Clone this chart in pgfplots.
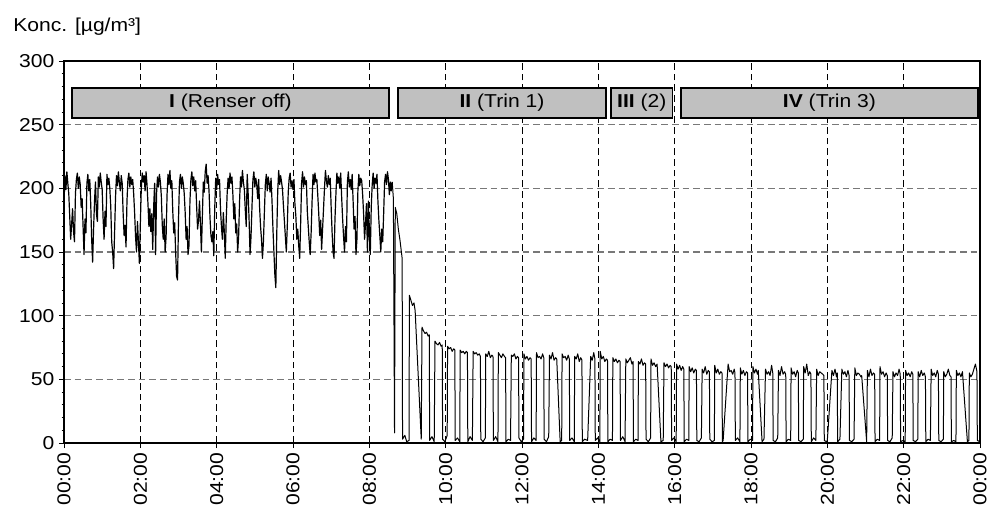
\documentclass[border=0pt]{standalone}
\usepackage{fontspec}
\setmainfont{Liberation Sans}[FakeStretch=1.13]
\usepackage{pgfplots}
\pgfplotsset{compat=1.18}
\usepackage{pgfplotstable}
\definecolor{boxgray}{RGB}{192,192,192}
\definecolor{gridgray}{RGB}{120,120,120}

% phase I: 0 - 8.6 h
\pgfplotstableread{
x y
0.000 188
0.025 210
0.050 199
0.075 213
0.100 204
0.125 196
0.150 178
0.175 160
0.200 172
0.225 184
0.250 166
0.275 158
0.300 196
0.325 207
0.350 212
0.375 200
0.400 209
0.425 203
0.450 185
0.475 192
0.500 170
0.525 148
0.550 176
0.575 165
0.600 204
0.625 211
0.650 198
0.675 207
0.700 188
0.725 160
0.750 142
0.775 168
0.800 190
0.825 205
0.850 180
0.875 174
0.900 209
0.925 201
0.950 212
0.975 205
1.000 199
1.025 176
1.050 160
1.075 182
1.100 170
1.125 211
1.150 203
1.175 208
1.200 200
1.225 186
1.250 158
1.275 150
1.300 137
1.325 165
1.350 193
1.375 210
1.400 202
1.425 213
1.450 205
1.475 198
1.500 210
1.525 204
1.550 180
1.575 163
1.600 171
1.625 154
1.650 190
1.675 207
1.700 212
1.725 201
1.750 209
1.775 203
1.800 207
1.825 196
1.850 181
1.875 162
1.900 150
1.925 174
1.950 158
1.975 141
2.000 172
2.025 200
2.050 212
2.075 205
2.100 210
2.125 198
2.150 213
2.175 203
2.200 188
2.225 170
2.250 184
2.275 166
2.300 180
2.325 152
2.350 186
2.375 204
2.400 148
2.425 196
2.450 209
2.475 201
2.500 211
2.525 205
2.550 194
2.575 171
2.600 160
2.625 176
2.650 150
2.675 162
2.700 195
2.725 211
2.750 203
2.775 214
2.800 200
2.825 206
2.850 182
2.875 165
2.900 173
2.925 150
2.950 131
2.975 128
3.000 175
3.025 205
3.050 211
3.075 200
3.100 209
3.125 204
3.150 196
3.175 181
3.200 160
3.225 170
3.250 148
3.275 155
3.300 190
3.325 207
3.350 213
3.375 202
3.400 209
3.425 198
3.450 206
3.475 186
3.500 168
3.525 175
3.550 190
3.575 172
3.600 150
3.625 178
3.650 205
3.675 197
3.700 213
3.725 219
3.750 204
3.775 210
3.800 198
3.825 177
3.850 163
3.875 158
3.900 166
3.925 147
3.950 185
3.975 208
4.000 199
4.025 211
4.050 203
4.075 207
4.100 184
4.125 170
4.150 160
4.175 181
4.200 166
4.225 145
4.250 175
4.275 196
4.300 208
4.325 200
4.350 212
4.375 204
4.400 209
4.425 195
4.450 176
4.475 188
4.500 165
4.525 172
4.550 150
4.575 162
4.600 190
4.625 209
4.650 201
4.675 214
4.700 205
4.725 199
4.750 183
4.775 170
4.800 211
4.825 196
4.850 175
4.875 148
4.900 162
4.925 185
4.950 207
4.975 213
5.000 201
5.025 208
5.050 203
5.075 192
5.100 207
5.125 185
5.150 170
5.175 160
5.200 145
5.225 158
5.250 181
5.275 203
5.300 211
5.325 198
5.350 209
5.375 204
5.400 197
5.425 208
5.450 190
5.475 168
5.500 150
5.525 132
5.550 122
5.575 165
5.600 198
5.625 214
5.650 203
5.675 210
5.700 205
5.725 199
5.750 186
5.775 174
5.800 162
5.825 150
5.850 170
5.875 197
5.900 208
5.925 212
5.950 201
5.975 206
6.000 199
6.025 207
6.050 188
6.075 178
6.100 160
6.125 168
6.150 155
6.175 145
6.200 172
6.225 204
6.250 213
6.275 201
6.300 209
6.325 203
6.350 206
6.375 182
6.400 170
6.425 158
6.450 148
6.475 165
6.500 190
6.525 211
6.550 203
6.575 212
6.600 205
6.625 207
6.650 194
6.675 180
6.700 163
6.725 175
6.750 152
6.775 168
6.800 184
6.825 200
6.850 214
6.875 206
6.900 201
6.925 210
6.950 203
6.975 208
7.000 185
7.025 165
7.050 150
7.075 145
7.100 176
7.125 196
7.150 212
7.175 204
7.200 209
7.225 200
7.250 212
7.275 193
7.300 176
7.325 162
7.350 150
7.375 170
7.400 158
7.425 205
7.450 213
7.475 201
7.500 207
7.525 199
7.550 211
7.575 190
7.600 168
7.625 178
7.650 148
7.675 160
7.700 198
7.725 211
7.750 202
7.775 208
7.800 206
7.825 195
7.850 180
7.875 160
7.900 172
7.925 188
7.950 150
7.975 190
8.000 162
8.025 148
8.050 185
8.075 203
8.100 212
8.125 200
8.150 208
8.175 204
8.200 211
8.225 190
8.250 175
8.275 163
8.300 150
8.325 168
8.350 158
8.375 180
8.400 205
8.425 211
8.450 203
8.475 213
8.500 207
8.525 195
8.550 205
8.575 198
8.600 205
}\phaseone

% phases II - IV: 8.6 - 24 h
\pgfplotstableread{
x y
8.600 205
8.63 192
8.66 8
8.68 185
8.72 180
8.76 168
8.80 160
8.84 150
8.86 145
8.87 3
8.93 6
8.98 1
9.04 2
9.05 116
9.09 112
9.13 108
9.17 110
9.20 104
9.36 3
9.38 91
9.42 88
9.46 86
9.50 87
9.54 84
9.57 85
9.58 2
9.64 5
9.70 1
9.72 80
9.76 78
9.80 77
9.84 79
9.88 76
9.91 77
9.92 3
9.98 1
10.04 6
10.05 76
10.09 74
10.13 75
10.17 72
10.21 74
10.24 73
10.25 2
10.31 4
10.37 1
10.38 73
10.42 71
10.46 72
10.50 70
10.54 72
10.57 71
10.58 1
10.64 5
10.70 2
10.72 72
10.76 70
10.80 71
10.84 69
10.88 70
10.91 68
10.92 3
10.98 1
11.04 4
11.05 70
11.09 68
11.13 72
11.17 67
11.21 69
11.24 68
11.25 2
11.31 5
11.37 1
11.38 71
11.42 69
11.46 67
11.50 70
11.54 68
11.57 67
11.58 1
11.64 3
11.70 2
11.72 69
11.76 68
11.80 70
11.84 66
11.88 68
11.91 67
11.92 4
11.98 1
12.04 3
12.05 70
12.09 66
12.13 68
12.17 65
12.21 67
12.24 66
12.25 1
12.31 4
12.37 2
12.38 71
12.42 67
12.46 68
12.50 66
12.54 70
12.57 67
12.58 3
12.64 1
12.70 5
12.72 69
12.76 66
12.80 71
12.84 65
12.88 67
12.91 66
13.00 1
13.04 2
13.05 70
13.09 67
13.13 68
13.17 65
13.21 69
13.24 66
13.25 2
13.31 4
13.37 1
13.38 68
13.42 66
13.46 70
13.50 64
13.54 67
13.57 65
13.58 1
13.64 3
13.72 2
13.80 68
13.84 65
13.88 71
13.91 66
13.92 2
13.98 4
14.04 1
14.05 72
14.09 66
14.13 68
14.17 64
14.21 66
14.24 65
14.25 1
14.31 3
14.37 2
14.38 67
14.42 64
14.46 66
14.50 63
14.54 65
14.57 64
14.58 2
14.64 5
14.70 1
14.72 66
14.76 63
14.80 65
14.84 67
14.88 62
14.91 64
14.92 1
14.98 3
15.04 2
15.05 64
15.09 62
15.13 66
15.17 61
15.21 63
15.24 62
15.25 3
15.31 1
15.37 4
15.38 66
15.42 61
15.46 63
15.50 60
15.54 62
15.64 1
15.70 2
15.72 63
15.76 60
15.80 62
15.84 59
15.88 61
15.91 60
15.92 2
15.98 4
16.04 1
16.05 62
16.09 58
16.13 61
16.17 57
16.21 60
16.24 58
16.25 1
16.31 3
16.37 2
16.38 60
16.42 56
16.46 59
16.50 55
16.54 58
16.57 57
16.58 2
16.64 1
16.70 4
16.72 58
16.76 55
16.80 60
16.84 54
16.88 57
16.91 56
16.92 3
16.98 1
17.04 2
17.05 61
17.09 55
17.13 58
17.17 54
17.21 56
17.24 55
17.25 1
17.27 2
17.40 62
17.44 56
17.48 57
17.52 54
17.56 58
17.58 55
17.59 2
17.65 4
17.71 1
17.72 59
17.76 54
17.80 57
17.84 53
17.88 56
17.91 55
17.92 1
17.98 3
18.04 2
18.05 60
18.09 55
18.13 58
18.17 54
18.19 57
18.29 1
18.34 3
18.38 58
18.42 54
18.46 56
18.50 53
18.54 61
18.57 55
18.58 2
18.64 1
18.70 4
18.72 57
18.76 53
18.80 60
18.84 54
18.88 56
18.91 54
18.92 1
18.98 3
19.04 2
19.05 59
19.09 54
19.13 56
19.17 52
19.21 57
19.24 55
19.25 2
19.31 1
19.37 3
19.38 60
19.42 55
19.46 62
19.50 53
19.54 56
19.57 54
19.58 1
19.64 4
19.70 2
19.72 58
19.76 53
19.80 56
19.84 55
19.88 54
19.91 53
19.92 2
19.98 1
20.00 2
20.12 57
20.16 53
20.20 58
20.24 52
20.26 55
20.27 1
20.33 3
20.38 58
20.42 54
20.46 56
20.50 52
20.54 57
20.57 53
20.58 2
20.64 1
20.70 3
20.72 59
20.76 53
20.80 55
20.84 54
20.88 52
20.90 53
21.03 1
21.05 57
21.09 52
21.13 58
21.17 53
21.21 55
21.24 54
21.25 1
21.31 3
21.37 2
21.38 60
21.42 54
21.46 56
21.50 52
21.54 55
21.57 53
21.58 2
21.64 1
21.70 4
21.72 56
21.76 52
21.80 55
21.84 53
21.88 58
21.91 54
21.92 1
21.98 2
22.04 1
22.05 57
22.09 53
22.13 55
22.17 52
22.21 56
22.24 54
22.25 2
22.31 1
22.37 3
22.38 56
22.42 52
22.46 57
22.50 53
22.54 55
22.57 52
22.58 1
22.64 3
22.70 2
22.72 58
22.76 53
22.80 55
22.84 52
22.88 57
22.91 54
22.92 2
22.98 1
23.04 3
23.05 56
23.09 52
23.13 54
23.17 58
23.21 53
23.24 52
23.25 1
23.31 2
23.37 1
23.38 57
23.42 53
23.46 55
23.50 52
23.54 56
23.67 1
23.71 2
23.72 55
23.76 52
23.80 54
23.84 58
23.88 62
23.92 56
23.93 2
24.00 1
}\phaserest

\begin{document}
\begin{tikzpicture}[font=\fontsize{14}{17}\selectfont]
\useasboundingbox (-48pt,-51.75pt) rectangle (693.75pt,332.25pt);
\begin{axis}[
  at={(0pt,0pt)}, anchor=south west,
  scale only axis, width=687pt, height=286.5pt,
  xmin=0, xmax=24, ymin=0, ymax=300,
  xtick={0,2,...,24},
  xticklabels={00:00,02:00,04:00,06:00,08:00,10:00,12:00,14:00,16:00,18:00,20:00,22:00,00:00},
  xticklabel style={rotate=90, anchor=east},
  ytick={0,50,...,300},
  minor y tick num=4,
  tick align=outside,
  xtick pos=left, ytick pos=left,
  major tick length=3.75pt, minor tick length=1.8pt,
  tick style={black, line width=0.6pt},
  grid=major,
  major x grid style={black, dash pattern=on 5pt off 3pt, line width=0.5pt},
  major y grid style={gridgray, dash pattern=on 5pt off 3pt, line width=0.8pt},
  axis line style={line width=0.8pt},
  /pgf/number format/assume math mode=true,
]
\addplot[black, line width=0.9pt, mark=none, line join=round] table[x=x, y=y] {\phaseone};
\addplot[black, line width=0.75pt, mark=none, line join=round] table[x=x, y=y] {\phaserest};
\draw[fill=boxgray, line width=1.1pt] (axis cs:0.21,255.2) rectangle (axis cs:8.51,278.8);
\draw[fill=boxgray, line width=1.1pt] (axis cs:8.75,255.2) rectangle (axis cs:14.20,278.8);
\draw[fill=boxgray, line width=1.1pt] (axis cs:14.33,255.2) rectangle (axis cs:15.95,278.8);
\draw[fill=boxgray, line width=1.1pt] (axis cs:16.16,255.2) rectangle (axis cs:23.95,278.8);
\node at (axis cs:4.36,267) {\textbf{I} (Renser off)};
\node at (axis cs:11.475,267) {\textbf{II} (Trin 1)};
\node at (axis cs:15.14,267) {\textbf{III} (2)};
\node at (axis cs:20.055,267) {\textbf{IV} (Trin 3)};
\end{axis}
\node[anchor=west, inner sep=0pt] at (-38.25pt,312pt) {Konc. [µg/m³]};
\end{tikzpicture}
\end{document}
